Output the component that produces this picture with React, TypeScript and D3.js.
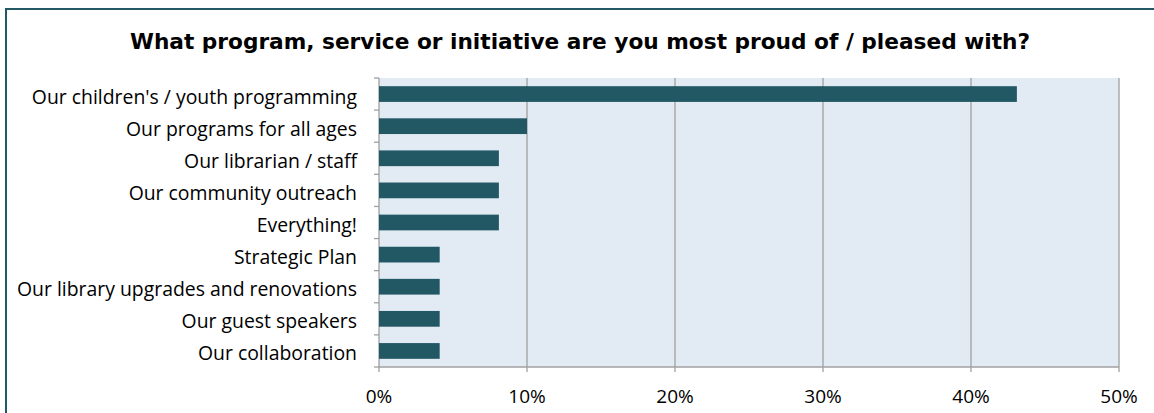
import React from "react";
import * as d3 from "d3";

const categories = [
  "Our children's / youth programming",
  "Our programs for all ages",
  "Our librarian / staff",
  "Our community outreach",
  "Everything!",
  "Strategic Plan",
  "Our library upgrades and renovations",
  "Our guest speakers",
  "Our collaboration",
];
const values = [43.1, 10.0, 8.1, 8.1, 8.1, 4.1, 4.1, 4.1, 4.1];
const xTicks = [0, 10, 20, 30, 40, 50];
const title = "What program, service or initiative are you most proud of / pleased with?";

const W = 1154;
const H = 413;
const plot = { left: 379, right: 1119, top: 78, bottom: 367 };
const barColor = "#215864";
const gridColor = "#a0a0a0";
const labelFont = "'Open Sans', 'Liberation Sans', sans-serif";

export default function App() {
  const x = d3.scaleLinear().domain([0, 50]).range([plot.left, plot.right]);
  const y = d3
    .scaleBand<string>()
    .domain(categories)
    .range([plot.top, plot.bottom])
    .paddingInner(0.51)
    .paddingOuter(0.255);
  const bandStep = (plot.bottom - plot.top) / categories.length;
  const frame = d3.path();
  frame.moveTo(6, H);
  frame.lineTo(6, 9);
  frame.lineTo(W, 9);

  return (
    <svg
      width={W}
      height={H}
      style={{ position: "absolute", left: 0, top: 0, display: "block", overflow: "hidden" }}
    >
      <rect x={0} y={0} width={W} height={H} fill="#ffffff" />
      <path d={frame.toString()} fill="none" stroke="#215864" strokeWidth={2} />
      <text
        x={580}
        y={49}
        textAnchor="middle"
        fontFamily="'DejaVu Sans', sans-serif"
        fontWeight="bold"
        fontSize={21.5}
        textLength={900}
        lengthAdjust="spacingAndGlyphs"
        fill="#000"
      >
        {title}
      </text>
      <rect
        x={plot.left}
        y={plot.top}
        width={plot.right - plot.left}
        height={plot.bottom - plot.top}
        fill="#e2eaf4"
      />
      {xTicks.map((t) => (
        <line
          key={"g" + t}
          x1={x(t)}
          x2={x(t)}
          y1={plot.top}
          y2={plot.bottom + 5}
          stroke={gridColor}
          strokeWidth={1.3}
        />
      ))}
      <line
        x1={plot.left - 1}
        x2={plot.right}
        y1={plot.bottom}
        y2={plot.bottom}
        stroke={gridColor}
        strokeWidth={1.3}
      />
      {d3.range(categories.length + 1).map((i) => (
        <line
          key={"yt" + i}
          x1={plot.left - 5}
          x2={plot.left}
          y1={plot.top + i * bandStep}
          y2={plot.top + i * bandStep}
          stroke={gridColor}
          strokeWidth={1.3}
        />
      ))}
      {categories.map((c, i) => (
        <rect
          key={"b" + c}
          x={x(0)}
          y={y(c)!}
          width={x(values[i]) - x(0)}
          height={y.bandwidth()}
          fill={barColor}
        />
      ))}
      {categories.map((c) => (
        <text
          key={"l" + c}
          x={357}
          y={y(c)! + y.bandwidth() / 2 + 9.5}
          textAnchor="end"
          fontFamily={labelFont}
          fontSize={19.4}
          fill="#000"
        >
          {c}
        </text>
      ))}
      {xTicks.map((t) => (
        <text
          key={"xl" + t}
          x={x(t)}
          y={403}
          textAnchor="middle"
          fontFamily={labelFont}
          fontSize={19}
          fill="#000"
        >
          {t + "%"}
        </text>
      ))}
    </svg>
  );
}
